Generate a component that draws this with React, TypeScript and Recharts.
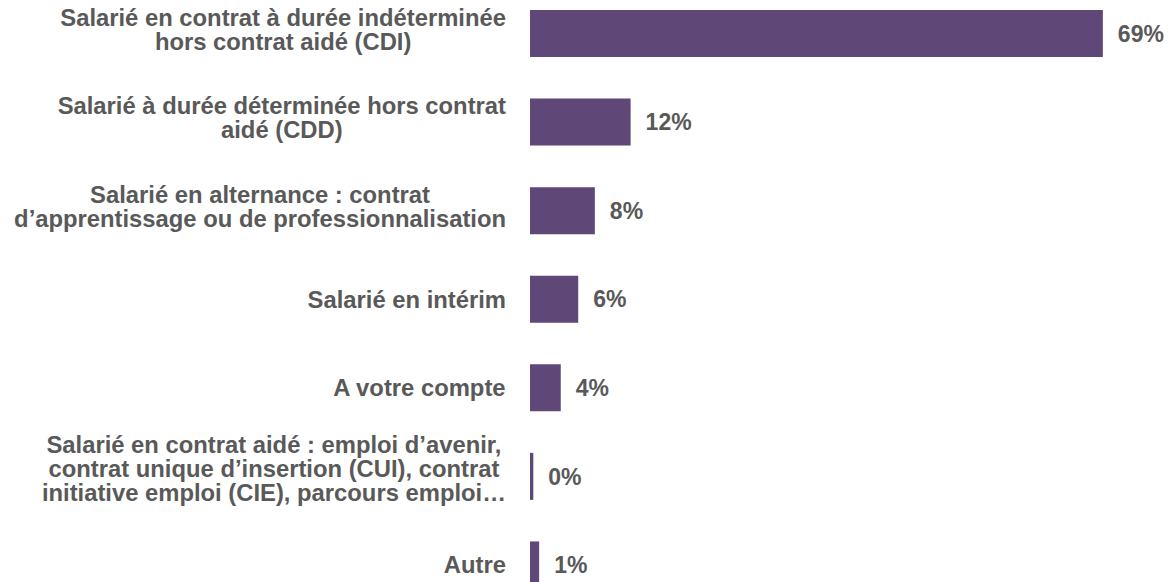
import React from "react";
import { BarChart, Bar, XAxis, YAxis, LabelList } from "recharts";

const categories = [
  "Salarié en contrat à durée indéterminée\nhors contrat aidé (CDI)",
  "Salarié à durée déterminée hors contrat\naidé (CDD)",
  "Salarié en alternance : contrat\nd’apprentissage ou de professionnalisation",
  "Salarié en intérim",
  "A votre compte",
  "Salarié en contrat aidé : emploi d’avenir,\ncontrat unique d’insertion (CUI), contrat\ninitiative emploi (CIE), parcours emploi…",
  "Autre",
];

const shares = [68.9, 12.1, 7.8, 5.8, 3.7, 0.4, 1.1];

const data = categories.map((label, i) => ({ label, share: shares[i] }));

const FONT = "'Liberation Sans', Arial, sans-serif";
const FONT_SIZE = 23.8;
const GREY = "#595959";
const PURPLE = "#5F4777";

let ctx: CanvasRenderingContext2D | null = null;
const measure = (s: string) => {
  if (!ctx) {
    ctx = document.createElement("canvas").getContext("2d");
  }
  if (!ctx) return s.length * FONT_SIZE * 0.55;
  ctx.font = `bold ${FONT_SIZE}px 'Liberation Sans', Arial, sans-serif`;
  return ctx.measureText(s).width;
};

// multi-line category label: lines centred in a block that sits right against the bars
const CategoryTick = (props: any) => {
  const { x, y, payload } = props;
  const lines: string[] = String(payload.value).split("\n");
  const lineH = 24;
  const right = x - 16;
  const blockW = Math.max(...lines.map(measure));
  const cx = right - blockW / 2;
  const startY = y - ((lines.length - 1) * lineH) / 2 - (lines.length - 1) * 4;
  return (
    <text
      x={cx}
      y={startY}
      textAnchor="middle"
      fill={GREY}
      fontFamily={FONT}
      fontWeight="bold"
      fontSize={FONT_SIZE}
    >
      {lines.map((line, i) => (
        <tspan key={i} x={cx} y={startY + i * lineH} dy="0.36em">
          {line}
        </tspan>
      ))}
    </text>
  );
};

const App: React.FC = () => {
  return (
    <div
      style={{
        position: "absolute",
        left: 0,
        top: 0,
        width: 1169,
        height: 582,
        overflow: "hidden",
        background: "#fff",
      }}
    >
      <div style={{ position: "relative", top: -11 }}>
        <BarChart
          width={1169}
          height={620}
          data={data}
          layout="vertical"
          margin={{ top: 0, right: 57, left: 0, bottom: 0 }}
        >
          <XAxis type="number" domain={[0, 70]} hide />
          <YAxis
            type="category"
            dataKey="label"
            width={530}
            axisLine={false}
            tickLine={false}
            interval={0}
            tick={<CategoryTick />}
          />
          <Bar dataKey="share" fill={PURPLE} barSize={47} isAnimationActive={false}>
            <LabelList
              dataKey="share"
              position="right"
              offset={15}
              formatter={(v: any) => `${Math.round(Number(v))}%`}
              fill={GREY}
              fontFamily={FONT}
              fontWeight="bold"
              fontSize={23}
            />
          </Bar>
        </BarChart>
      </div>
    </div>
  );
};

export default App;
